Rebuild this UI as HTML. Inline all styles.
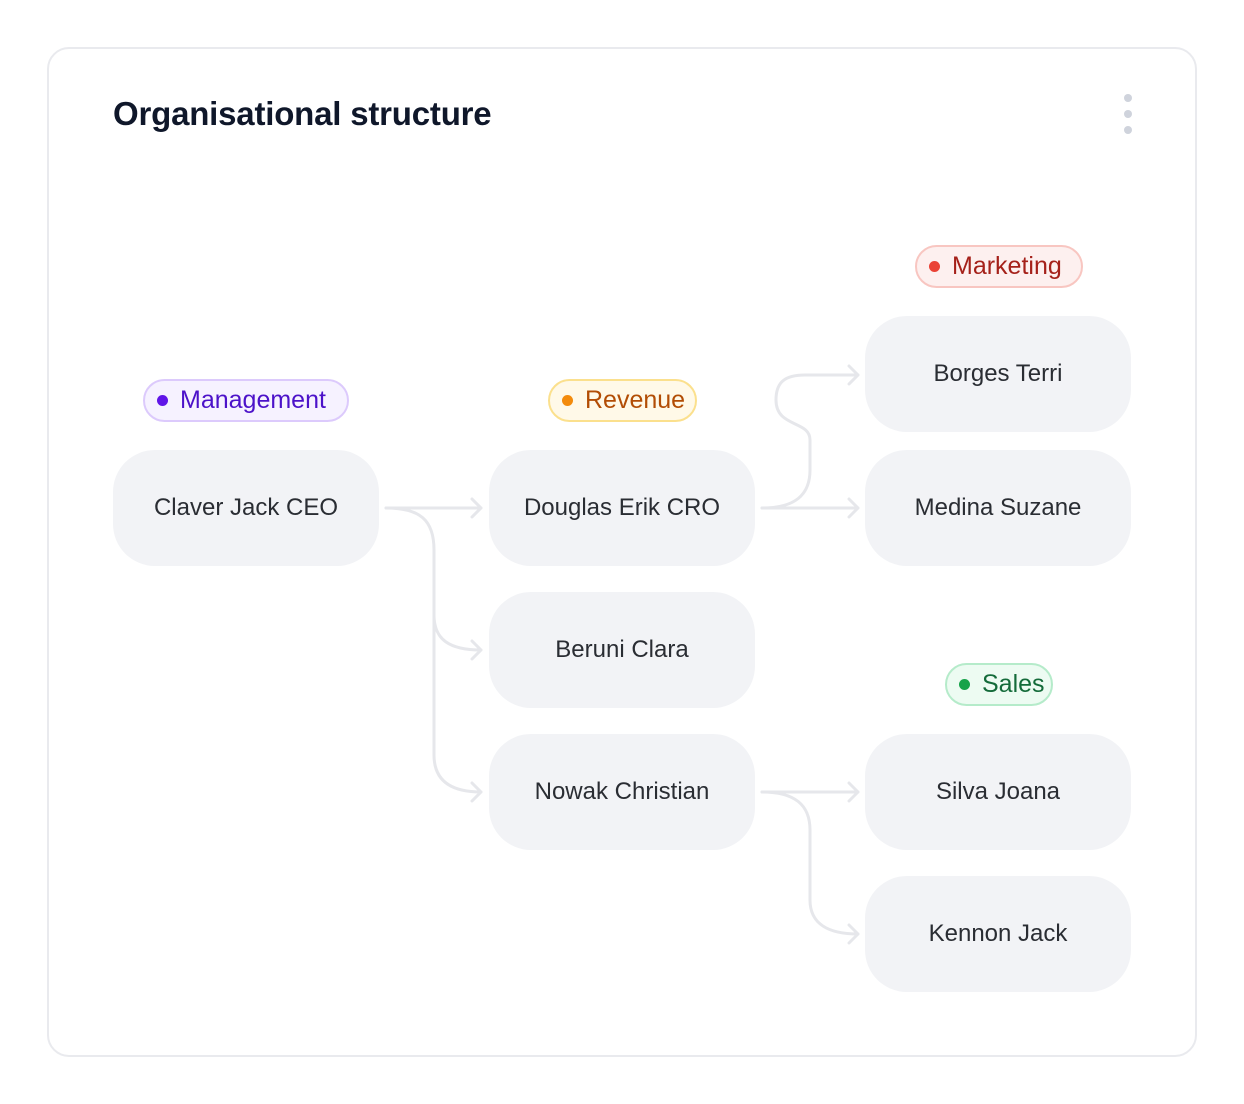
<!DOCTYPE html>
<html><head><style>
body{margin:0;width:1244px;height:1104px;background:#fff;font-family:"Liberation Sans",sans-serif;position:relative;overflow:hidden}
.card{position:absolute;left:47px;top:47px;width:1146px;height:1006px;border:2px solid #e9eaee;border-radius:22px;box-sizing:content-box}
h1{position:absolute;left:113px;top:95px;margin:0;font-size:33px;font-weight:bold;color:#0f172a;letter-spacing:-0.2px}
.dot3{position:absolute;left:1124px;width:8px;height:8px;border-radius:50%;background:#cfd3dc}
.node{position:absolute;width:266px;height:116px;border-radius:42px;background:#f2f3f6;display:flex;align-items:center;justify-content:center;font-size:24px;color:#2a2d33}
.pill{position:absolute;height:43px;border-radius:22px;display:flex;align-items:center;box-sizing:border-box;font-size:25px;padding-left:12px}
.pill i{display:inline-block;width:11px;height:11px;border-radius:50%;margin-right:12px}
svg{position:absolute;left:0;top:0}
</style></head><body>
<div class="card"></div>
<h1>Organisational structure</h1>
<div class="dot3" style="top:94px"></div><div class="dot3" style="top:110px"></div><div class="dot3" style="top:126px"></div>
<svg width="1244" height="1104" fill="none" stroke="#e6e7eb" stroke-width="3" stroke-linecap="round" stroke-linejoin="round">
<path d="M386,508 L481,508 M472,499 L481,508 L472,517"/>
<path d="M386,508 C420,508 434,520 434,550 L434,615 C434,640 450,650 481,650 M472,641 L481,650 L472,659"/>
<path d="M434,615 L434,755 C434,780 450,792 481,792 M472,783 L481,792 L472,801"/>
<path d="M762,508 L858,508 M849,499 L858,508 L849,517"/>
<path d="M762,508 C795,508 810,495 810,470 L810,440 C810,420 776,428 776,400 C776,382 785,375 805,375 L858,375 M849,366 L858,375 L849,384"/>
<path d="M762,792 L858,792 M849,783 L858,792 L849,801"/>
<path d="M762,792 C795,792 810,805 810,830 L810,900 C810,925 830,934 858,934 M849,925 L858,934 L849,943"/>
</svg>
<div class="node" style="left:113px;top:450px">Claver Jack CEO</div>
<div class="node" style="left:489px;top:450px">Douglas Erik CRO</div>
<div class="node" style="left:489px;top:592px">Beruni Clara</div>
<div class="node" style="left:489px;top:734px">Nowak Christian</div>
<div class="node" style="left:865px;top:316px">Borges Terri</div>
<div class="node" style="left:865px;top:450px">Medina Suzane</div>
<div class="node" style="left:865px;top:734px">Silva Joana</div>
<div class="node" style="left:865px;top:876px">Kennon Jack</div>
<div class="pill" style="left:143px;top:379px;width:206px;background:#f6f2ff;border:2px solid #dccafc;color:#4c12c9"><i style="background:#6015e8"></i>Management</div>
<div class="pill" style="left:548px;top:379px;width:149px;background:#fff9e8;border:2px solid #fbe08d;color:#b24d05"><i style="background:#f38b0c"></i>Revenue</div>
<div class="pill" style="left:915px;top:245px;width:168px;background:#fdf0ef;border:2px solid #f8c6c1;color:#a5211a"><i style="background:#ea4235"></i>Marketing</div>
<div class="pill" style="left:945px;top:663px;width:108px;background:#edfbf2;border:2px solid #b5ebca;color:#146b3a"><i style="background:#16a34a"></i>Sales</div>
</body></html>
